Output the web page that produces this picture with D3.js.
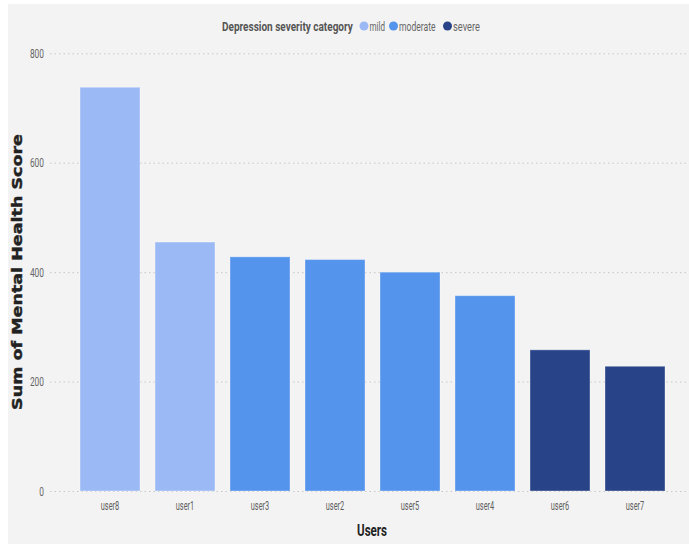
<!DOCTYPE html>
<html>
<head>
<meta charset="utf-8">
<script src="https://cdn.jsdelivr.net/npm/d3@7"></script>
<style>
  body { margin: 0; background: #fff; }
  svg text { font-family: "Roboto", "Liberation Sans", sans-serif; }
</style>
</head>
<body>
<svg id="chart" width="689" height="544"></svg>
<script>
// data
var users = ["user8", "user1", "user3", "user2", "user5", "user4", "user6", "user7"];
var scores = [738, 455, 428, 423, 400, 357, 258, 228];
var severity = ["mild", "mild", "moderate", "moderate", "moderate", "moderate", "severe", "severe"];
var categories = ["mild", "moderate", "severe"];
var colores = ["#9bbaf5", "#5494ec", "#284388"];
var yTicks = [0, 200, 400, 600, 800];

var svg = d3.select("#chart");

// gray panel
svg.append("rect").attr("x", 8).attr("y", 4).attr("width", 681).attr("height", 540).attr("fill", "#f3f3f3");

var x = d3.scaleBand().domain(users).range([72.5, 672.5]).paddingInner(0.2).paddingOuter(0.1);
var y = d3.scaleLinear().domain([0, 800]).range([491, 53.3]);
var color = d3.scaleOrdinal().domain(categories).range(colores);

// condensed look: scale text horizontally to the width it has in the picture
function squeeze(sel, width) {
  sel.each(function(d, i){
    var t = d3.select(this);
    var w = this.getComputedTextLength();
    var target = typeof width === "function" ? width.call(this, d, i) : width;
    var x0 = +t.attr("x") || 0;
    var y0 = +t.attr("y") || 0;
    t.attr("x", 0).attr("y", 0)
      .attr("transform", "translate(" + x0 + "," + y0 + ") scale(" + (target / w) + ",1)");
  });
}

// gridlines + y labels
var yAxis = svg.append("g").attr("transform", "translate(50,0)")
  .call(d3.axisLeft(y).tickValues(yTicks).tickSize(0).tickPadding(6));
yAxis.select(".domain").remove();
yAxis.selectAll("text").attr("fill", "#666").attr("font-size", 12.5)
  .call(squeeze, function(){ return this.textContent.length * 4.7; });
yAxis.selectAll(".tick").append("line")
  .attr("x1", 0).attr("x2", 639)
  .attr("stroke", "#c8c8c8").attr("stroke-dasharray", "1.5,3");

// bars
svg.append("g").selectAll("rect").data(users).enter().append("rect")
  .attr("x", function(d){ return x(d); })
  .attr("y", function(d, i){ return y(scores[i]); })
  .attr("width", x.bandwidth())
  .attr("height", function(d, i){ return y(0) - y(scores[i]); })
  .attr("fill", function(d, i){ return color(severity[i]); })
  .attr("stroke", "#ffffff").attr("stroke-opacity", 0.35).attr("stroke-width", 1);

// x labels
var xAxis = svg.append("g").attr("transform", "translate(0,491)")
  .call(d3.axisBottom(x).tickSize(0).tickPadding(10));
xAxis.select(".domain").remove();
xAxis.selectAll("text").attr("fill", "#5f5f5f").attr("font-size", 12).call(squeeze, 18.5);

// axis titles
svg.append("text").attr("x", 372).attr("y", 536).attr("text-anchor", "middle")
  .attr("font-size", 17).attr("font-weight", "bold").attr("fill", "#222")
  .text("Users").call(squeeze, 30);
svg.append("g").attr("transform", "translate(22,272) rotate(-90)")
  .append("text").attr("text-anchor", "middle")
  .style("font-family", "'DejaVu Sans', sans-serif")
  .attr("font-size", 14).attr("font-weight", "bold").attr("fill", "#222")
  .attr("stroke", "#222").attr("stroke-width", 0.4)
  .text("Sum of Mental Health Score").call(squeeze, 276);

// legend
var leg = svg.append("g").attr("transform", "translate(0,26)");
leg.append("text").attr("x", 222).attr("y", 4.5).attr("font-size", 12.5).attr("font-weight", "bold")
  .attr("fill", "#555").text("Depression severity category").call(squeeze, 131);
var legX = [364, 393.5, 447.5];
var legW = [15.5, 36.5, 27];
categories.forEach(function(c, i){
  leg.append("circle").attr("cx", legX[i]).attr("cy", 0).attr("r", 4.5).attr("fill", color(c));
  leg.append("text").attr("x", legX[i] + 5.5).attr("y", 4.5).attr("font-size", 12.5)
    .attr("fill", "#666").text(c).call(squeeze, legW[i]);
});
</script>
</body>
</html>
